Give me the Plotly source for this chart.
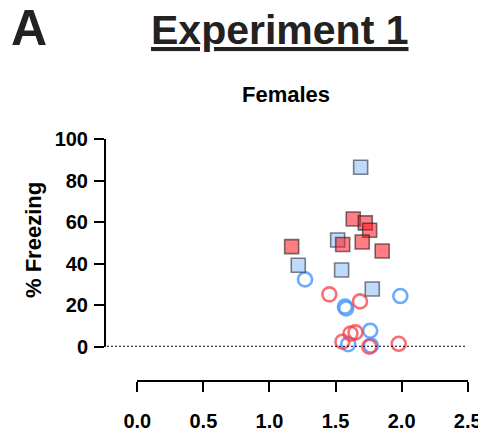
import plotly.graph_objects as go

# ---- data ----
blue_sq_x = [1.690, 1.516, 1.218, 1.546, 1.778]
blue_sq_y = [86.4, 51.4, 39.2, 36.9, 27.8]

red_sq_x = [1.634, 1.725, 1.758, 1.554, 1.702, 1.168, 1.853]
red_sq_y = [61.5, 59.6, 56.1, 49.2, 50.4, 48.2, 46.1]

blue_ci_x = [1.269, 1.990, 1.571, 1.580, 1.762, 1.596, 1.768]
blue_ci_y = [32.4, 24.4, 19.3, 18.4, 7.7, 1.2, 0.5]

red_ci_x = [1.453, 1.685, 1.651, 1.613, 1.552, 1.755, 1.978]
red_ci_y = [25.2, 21.8, 6.9, 6.3, 2.4, 0.0, 1.4]

x_tickvals = [0.0, 0.5, 1.0, 1.5, 2.0, 2.5]
x_ticktext = ["0.0", "0.5", "1.0", "1.5", "2.0", "2.5"]
y_tickvals = [0, 20, 40, 60, 80, 100]
y_ticktext = ["0", "20", "40", "60", "80", "100"]

# the page places the figure 8px from the window's top-left corner
OFF = 8
W, H = 486 - OFF, 437 - OFF
FONT = "Arial, Liberation Sans, Helvetica, sans-serif"

def px_x(p):
    return (p - OFF) / W

def px_y(p):
    return 1 - (p - OFF) / H

fig = go.Figure()

fig.add_trace(go.Scatter(
    x=blue_ci_x, y=blue_ci_y, mode="markers", cliponaxis=False,
    marker=dict(symbol="circle-open", size=14, color="rgba(70,150,255,0.8)",
                line=dict(width=2.6, color="rgba(70,150,255,0.8)")),
    showlegend=False))
fig.add_trace(go.Scatter(
    x=red_ci_x, y=red_ci_y, mode="markers", cliponaxis=False,
    marker=dict(symbol="circle-open", size=14, color="rgba(250,60,70,0.75)",
                line=dict(width=2.6, color="rgba(250,60,70,0.75)")),
    showlegend=False))
fig.add_trace(go.Scatter(
    x=blue_sq_x, y=blue_sq_y, mode="markers", cliponaxis=False,
    marker=dict(symbol="square", size=14, color="rgba(180,212,250,0.85)",
                line=dict(width=1.6, color="rgba(40,45,60,0.6)")),
    showlegend=False))
fig.add_trace(go.Scatter(
    x=red_sq_x, y=red_sq_y, mode="markers", cliponaxis=False,
    marker=dict(symbol="square", size=14, color="rgba(255,20,30,0.55)",
                line=dict(width=1.6, color="rgba(30,30,30,0.6)")),
    showlegend=False))

# dotted zero line spanning from the y axis to the right edge
fig.add_shape(type="line", xref="paper", yref="y",
              x0=px_x(107), x1=px_x(466), y0=0, y1=0,
              line=dict(color="black", width=2, dash="2px,2px"))

tickfont = dict(family=FONT, size=20, color="black", weight="bold")

fig.update_layout(
    width=W, height=H,
    margin=dict(l=0, r=0, t=0, b=0, autoexpand=False),
    paper_bgcolor="white", plot_bgcolor="white",
    xaxis=dict(domain=[px_x(137.3), px_x(467.7)], range=[0, 2.5],
               anchor="free", position=px_y(381), automargin=False,
               showline=True, linecolor="black", linewidth=2,
               ticks="outside", ticklen=10, tickwidth=2, tickcolor="black",
               tickvals=x_tickvals, ticktext=x_ticktext, tickfont=tickfont,
               ticklabelstandoff=12,
               showgrid=False, zeroline=False),
    yaxis=dict(domain=[px_y(346.7), px_y(139)], range=[0, 100],
               anchor="free", position=px_x(105), automargin=False,
               showline=True, linecolor="black", linewidth=2,
               ticks="outside", ticklen=10, tickwidth=2, tickcolor="black",
               tickvals=y_tickvals, ticktext=y_ticktext, tickfont=tickfont,
               ticklabelstandoff=2,
               showgrid=False, zeroline=False),
    annotations=[
        dict(text="A", x=px_x(28.5), y=px_y(28.5), xref="paper", yref="paper",
             showarrow=False, xanchor="center", yanchor="middle", borderpad=0,
             font=dict(family=FONT, size=50, color="#222222", weight="bold")),
        dict(text="<u>Experiment 1</u>", x=px_x(280), y=px_y(30), xref="paper", yref="paper",
             showarrow=False, xanchor="center", yanchor="middle",
             font=dict(family=FONT, size=41, color="#222222", weight="bold")),
        dict(text="Females", x=px_x(286), y=px_y(94), xref="paper", yref="paper",
             showarrow=False, xanchor="center", yanchor="middle",
             font=dict(family=FONT, size=22, color="black", weight="bold")),
        dict(text="% Freezing", x=px_x(33), y=px_y(240), xref="paper", yref="paper",
             showarrow=False, xanchor="center", yanchor="middle", textangle=-90,
             font=dict(family=FONT, size=22, color="black", weight="bold")),
    ],
)

fig.write_html("out.html")
